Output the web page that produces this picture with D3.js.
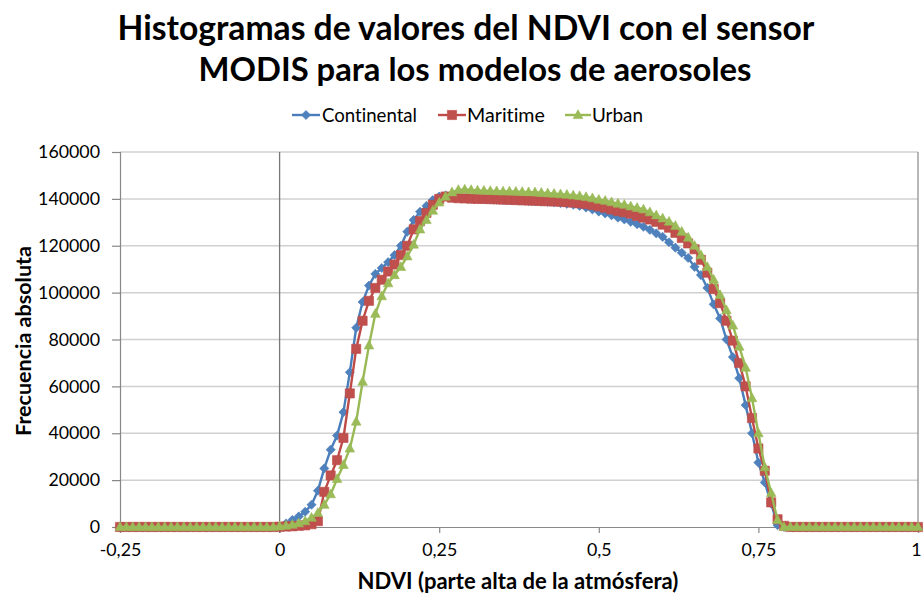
<!DOCTYPE html>
<html><head><meta charset="utf-8">
<script src="https://cdn.jsdelivr.net/npm/d3@7"></script>
<style>
body{margin:0;background:#fff}
svg{display:block}
text{font-family:Lato,"Open Sans",sans-serif;fill:#000;font-variant-ligatures:none;font-feature-settings:"liga" 0}
</style>
</head><body>
<svg id="chart" width="923" height="598"></svg>
<script>
// ---------- DATA ----------
const ndvi = [-0.25,-0.24,-0.23,-0.22,-0.21,-0.2,-0.19,-0.18,-0.17,-0.16,-0.15,-0.14,-0.13,-0.12,-0.11,-0.1,-0.09,-0.08,-0.07,-0.06,-0.05,-0.04,-0.03,-0.02,-0.01,
0,0.01,0.02,0.03,0.04,0.05,0.06,0.07,0.08,0.09,0.1,0.11,0.12,0.13,0.14,0.15,0.16,0.17,0.18,0.19,0.2,0.21,0.22,0.23,0.24,0.25,0.26,0.27,0.28,0.29,
0.3,0.31,0.32,0.33,0.34,0.35,0.36,0.37,0.38,0.39,0.4,0.41,0.42,0.43,0.44,0.45,0.46,0.47,0.48,0.49,0.5,0.51,0.52,0.53,0.54,0.55,0.56,0.57,0.58,0.59,
0.6,0.61,0.62,0.63,0.64,0.65,0.66,0.67,0.68,0.69,0.7,0.71,0.72,0.73,0.74,0.75,0.76,0.77,0.78,0.79,0.8,0.81,0.82,0.83,0.84,0.85,0.86,0.87,0.88,0.89,
0.9,0.91,0.92,0.93,0.94,0.95,0.96,0.97,0.98,0.99,1];

const continental = [0,0,0,0,0,0,0,0,0,0,0,0,0,0,0,0,0,0,0,0,0,0,0,0,0,
300,1500,3000,4500,6500,9500,15500,25000,33000,39000,49000,66000,85000,96000,103000,108000,110500,113000,116000,120000,
126000,131000,134500,137000,139500,141000,141500,141000,140500,140200,140000,139900,139800,139700,139600,139500,
139400,139300,139200,139000,138900,138800,138700,138500,138200,137900,137500,137000,136300,135500,134600,
133800,133000,132000,131200,130200,129200,128100,126800,125300,123800,121500,119200,117000,114800,111000,
107500,102000,95000,89000,80000,72500,63500,52000,40000,27500,19000,10000,800,
0,0,0,0,0,0,0,0,0,0,0,0,0,0,0,0,0,0,0,0,0,0];

const maritime = [0,0,0,0,0,0,0,0,0,0,0,0,0,0,0,0,0,0,0,0,0,0,0,0,0,
100,200,300,500,700,1200,2500,15000,22000,28500,38000,57000,76000,88000,96500,102000,105500,109000,112000,116000,
120000,127000,130500,134000,137500,140000,141000,140500,140300,140200,140100,140000,140000,139900,139800,139700,
139600,139500,139400,139300,139200,139100,139000,138900,138800,138600,138400,138100,137800,137400,136800,
136200,135500,134800,134300,133700,132700,132000,131200,130200,129000,127700,125500,123300,121000,118500,
114000,108500,101500,95500,88000,79500,70000,60000,46500,33500,24000,10500,3300,500,
0,0,0,0,0,0,0,0,0,0,0,0,0,0,0,0,0,0,0,0,0];

const urban = [0,0,0,0,0,0,0,0,0,0,0,0,0,0,0,0,0,0,0,0,0,0,0,0,0,
300,600,1000,1600,2500,4000,6000,9500,14000,20500,26500,33500,45000,62000,77500,91000,98500,104000,107500,111000,
115500,120500,127000,131000,135000,138500,141000,142800,143800,144000,143800,143600,143500,143400,143300,143200,
143200,143100,143000,142900,142800,142600,142400,142200,142000,141800,141500,141200,140800,140300,139700,
139200,138600,138000,137500,136800,136200,135500,134300,133000,131700,130300,128500,126000,123500,120000,
116000,111000,105500,99000,92500,86000,77000,68000,55000,40000,25500,14500,3000,
0,0,0,0,0,0,0,0,0,0,0,0,0,0,0,0,0,0,0,0,0,0];

const seriesNames = ["Continental","Maritime","Urban"];
const xTickValues = [-0.25,0,0.25,0.5,0.75,1];
const xTickLabels = ["-0,25","0","0,25","0,5","0,75","1"];
const yTickValues = [0,20000,40000,60000,80000,100000,120000,140000,160000];
const titleLines = ["Histogramas de valores del NDVI con el sensor","MODIS para los modelos de aerosoles"];
const xTitle = "NDVI (parte alta de la atmósfera)";
const yTitle = "Frecuencia absoluta";

// ---------- STYLE / LAYOUT ----------
const lineColors = ["#4A7EBB","#BE4B48","#98B954"];
const fillColors = ["#4F81BD","#C0504D","#9BBB59"];
const shapes = [
  "M0,-4.6L4.6,0L0,4.6L-4.6,0Z",
  "M-4.6,-4.6H4.6V4.6H-4.6Z",
  "M0,-5.2L4.8,3.6H-4.8Z"
];
const plot = {left:120, right:918, top:152, bottom:527};

const svg = d3.select("#chart");
const x = d3.scaleLinear().domain([-0.25,1]).range([plot.left, plot.right]);
const y = d3.scaleLinear().domain([0,160000]).range([plot.bottom, plot.top]);

function fit(t, w){
  const l = t.node().getComputedTextLength();
  const fs = parseFloat(t.attr("font-size"));
  t.attr("font-size", fs*w/l);
}

// gridlines
svg.append("g").selectAll("line").data(yTickValues.filter(v=>v>0)).join("line")
  .attr("x1",plot.left).attr("x2",plot.right)
  .attr("y1",d=>y(d)).attr("y2",d=>y(d))
  .attr("stroke","#D0D0D0").attr("stroke-width",1.5);

// y axis (left, labels)
const yAxis = d3.axisLeft(y).tickValues(yTickValues).tickSize(8).tickPadding(12).tickFormat(d=>String(d));
const gy = svg.append("g").attr("transform",`translate(${plot.left},0)`).call(yAxis);
gy.select(".domain").attr("stroke","#888").attr("stroke-width",1.2);
gy.selectAll(".tick line").attr("stroke","#888").attr("stroke-width",1.2);
gy.selectAll(".tick text").attr("font-family","Lato").attr("font-size",18).attr("fill","#000");
{
  const t = gy.selectAll(".tick text").filter(d=>d===160000);
  const l = t.node().getComputedTextLength();
  const fs = 18*62/l;
  gy.selectAll(".tick text").attr("font-size",fs);
}

// right border
svg.append("line").attr("x1",plot.right).attr("x2",plot.right).attr("y1",plot.top).attr("y2",plot.bottom)
  .attr("stroke","#888").attr("stroke-width",1.2);

// x axis
const xAxis = d3.axisBottom(x).tickValues(xTickValues).tickSize(6).tickPadding(10)
  .tickFormat((d,i)=>xTickLabels[i]);
const gx = svg.append("g").attr("transform",`translate(0,${plot.bottom})`).call(xAxis);
gx.select(".domain").attr("stroke","#888").attr("stroke-width",1.2);
gx.selectAll(".tick line").attr("stroke","#888").attr("stroke-width",1.2);
gx.selectAll(".tick text").attr("font-family","Lato").attr("fill","#000")
  .attr("font-size", gy.select(".tick text").attr("font-size"));
gx.selectAll(".tick text").filter(d=>d===1).attr("text-anchor","end").attr("dx","3");

// vertical axis line at x = 0
svg.append("line").attr("x1",x(0)).attr("x2",x(0)).attr("y1",plot.top).attr("y2",plot.bottom+6)
  .attr("stroke","#777").attr("stroke-width",1.3);

// series
const allSeries = [continental, maritime, urban];
const line = d3.line().x((d,i)=>x(ndvi[i])).y(d=>y(d));
allSeries.forEach((vals,k)=>{
  const g = svg.append("g");
  g.append("path").datum(vals).attr("d",line).attr("fill","none")
    .attr("stroke",lineColors[k]).attr("stroke-width",2.4).attr("stroke-linejoin","round");
  g.selectAll("path.m").data(vals).join("path").attr("class","m")
    .attr("d",shapes[k])
    .attr("transform",(d,i)=>`translate(${x(ndvi[i])},${y(d)})`)
    .attr("fill",fillColors[k]).attr("stroke",lineColors[k]).attr("stroke-width",0.6);
});

// title
const titleSpecs = [{cx:466, y:40, w:697},{cx:475, y:81, w:553}];
titleLines.forEach((s,i)=>{
  const t = svg.append("text").attr("x",titleSpecs[i].cx).attr("y",titleSpecs[i].y)
    .attr("text-anchor","middle").attr("font-weight","bold").attr("font-size",30).text(s);
  fit(t,titleSpecs[i].w);
});

// legend
const legendSpecs = [
  {x1:292,x2:320,tx:322,tw:95},
  {x1:438,x2:466,tx:467,tw:78},
  {x1:565,x2:591,tx:592,tw:51}
];
const legY = 115;
seriesNames.forEach((name,k)=>{
  const s = legendSpecs[k];
  svg.append("line").attr("x1",s.x1).attr("x2",s.x2).attr("y1",legY).attr("y2",legY)
    .attr("stroke",lineColors[k]).attr("stroke-width",2.4);
  svg.append("path").attr("d",shapes[k]).attr("transform",`translate(${(s.x1+s.x2)/2},${legY})`)
    .attr("fill",fillColors[k]).attr("stroke",lineColors[k]).attr("stroke-width",0.6);
  const t = svg.append("text").attr("x",s.tx).attr("y",legY).attr("dy","0.35em")
    .attr("font-size",17).text(name);
  fit(t,s.tw);
});

// axis titles
const xt = svg.append("text").attr("x",518).attr("y",589).attr("text-anchor","middle")
  .attr("font-weight","bold").attr("font-size",20).text(xTitle);
fit(xt,321);
const yt = svg.append("text").attr("transform","translate(31,341) rotate(-90)")
  .attr("text-anchor","middle").attr("font-weight","bold").attr("font-size",20).text(yTitle);
fit(yt,190);
</script>
</body></html>
